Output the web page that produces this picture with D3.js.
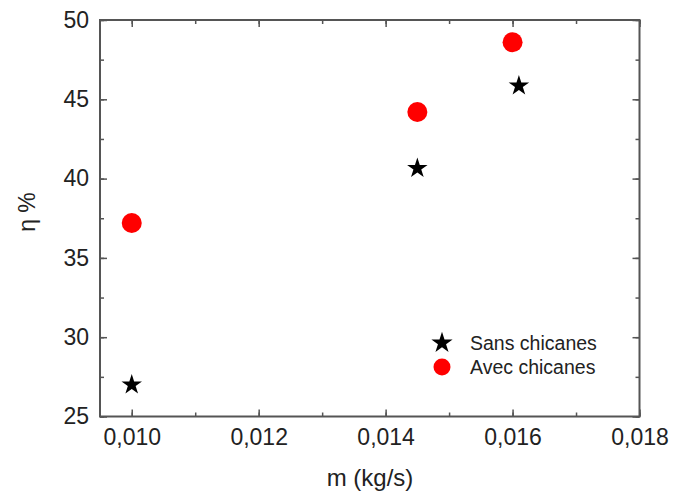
<!DOCTYPE html>
<html><head><meta charset="utf-8">
<script src="https://cdn.jsdelivr.net/npm/d3@7"></script>
<style>body{margin:0;background:#fff}text{font-family:"Liberation Sans",Arial,sans-serif}</style>
</head><body><svg id="c" width="673" height="495"></svg>
<script>
const xTicks = [0.010, 0.012, 0.014, 0.016, 0.018];
const yTicks = [25, 30, 35, 40, 45, 50];
const sansX = [0.0100, 0.0145, 0.0161];
const sansY = [27.0, 40.65, 45.85];
const avecX = [0.0100, 0.0145, 0.0160];
const avecY = [37.2, 44.2, 48.6];
const legendLabels = ["Sans chicanes", "Avec chicanes"];

const svg = d3.select("#c");
const L = 100, R = 639.5, T = 20, B = 416.5;
const x = d3.scaleLinear().domain([0.0095, 0.018]).range([L, R]);
const y = d3.scaleLinear().domain([25, 50]).range([B, T]);
const axisCol = "#555";
const fmt = d => d3.format(".3f")(d).replace(".", ",");

const minorX = d3.range(0.010, 0.0181, 0.001);
const minorY = d3.range(25, 50.1, 2.5);

svg.append("g").attr("transform", `translate(0,${B})`)
  .call(d3.axisBottom(x).tickValues(xTicks).tickFormat(fmt).tickSizeInner(-7).tickSizeOuter(0).tickPadding(12));
svg.append("g").attr("transform", `translate(0,${B})`)
  .call(d3.axisBottom(x).tickValues(minorX).tickFormat("").tickSizeInner(-4).tickSizeOuter(0));
svg.append("g").attr("transform", `translate(0,${T})`)
  .call(d3.axisTop(x).tickValues(xTicks).tickFormat("").tickSizeInner(-7).tickSizeOuter(0));
svg.append("g").attr("transform", `translate(0,${T})`)
  .call(d3.axisTop(x).tickValues(minorX).tickFormat("").tickSizeInner(-4).tickSizeOuter(0));
svg.append("g").attr("transform", `translate(${L},0)`)
  .call(d3.axisLeft(y).tickValues(yTicks).tickFormat(d => d).tickSizeInner(-7).tickSizeOuter(0).tickPadding(11));
svg.append("g").attr("transform", `translate(${L},0)`)
  .call(d3.axisLeft(y).tickValues(minorY).tickFormat("").tickSizeInner(-4).tickSizeOuter(0));
svg.append("g").attr("transform", `translate(${R},0)`)
  .call(d3.axisRight(y).tickValues(yTicks).tickFormat("").tickSizeInner(-7).tickSizeOuter(0));
svg.append("g").attr("transform", `translate(${R},0)`)
  .call(d3.axisRight(y).tickValues(minorY).tickFormat("").tickSizeInner(-4).tickSizeOuter(0));

svg.selectAll(".domain").remove();
svg.selectAll(".tick line").attr("stroke", axisCol).attr("stroke-width", 1.5);
svg.selectAll(".tick text").attr("fill", "#222").style("font-size", "23px");

svg.append("rect").attr("x", L).attr("y", T).attr("width", R - L).attr("height", B - T)
  .attr("fill", "none").attr("stroke", axisCol).attr("stroke-width", 2);

svg.append("text").attr("x", 370).attr("y", 486).attr("text-anchor", "middle")
  .style("font-size", "24px").attr("fill", "#222").text("m (kg/s)");
svg.append("text").attr("transform", "translate(35,212) rotate(-90)").attr("text-anchor", "middle")
  .style("font-size", "23px").attr("fill", "#222").text("η %");

const star = d3.symbol().type(d3.symbolStar).size(130);
svg.append("g").selectAll("path").data(sansX.map((v, i) => [v, sansY[i]])).join("path")
  .attr("d", star).attr("transform", d => `translate(${x(d[0])},${y(d[1])})`).attr("fill", "#000");
svg.append("g").selectAll("circle").data(avecX.map((v, i) => [v, avecY[i]])).join("circle")
  .attr("cx", d => x(d[0])).attr("cy", d => y(d[1])).attr("r", 10).attr("fill", "#f00");

const lg = svg.append("g");
lg.append("path").attr("d", d3.symbol().type(d3.symbolStar).size(140)).attr("transform", "translate(442,343)").attr("fill", "#000");
lg.append("circle").attr("cx", 442).attr("cy", 367).attr("r", 8.5).attr("fill", "#f00");
legendLabels.forEach((t, i) => {
  lg.append("text").attr("x", 470).attr("y", 350 + i * 24).style("font-size", "19.5px").attr("fill", "#222").text(t);
});
</script></body></html>
